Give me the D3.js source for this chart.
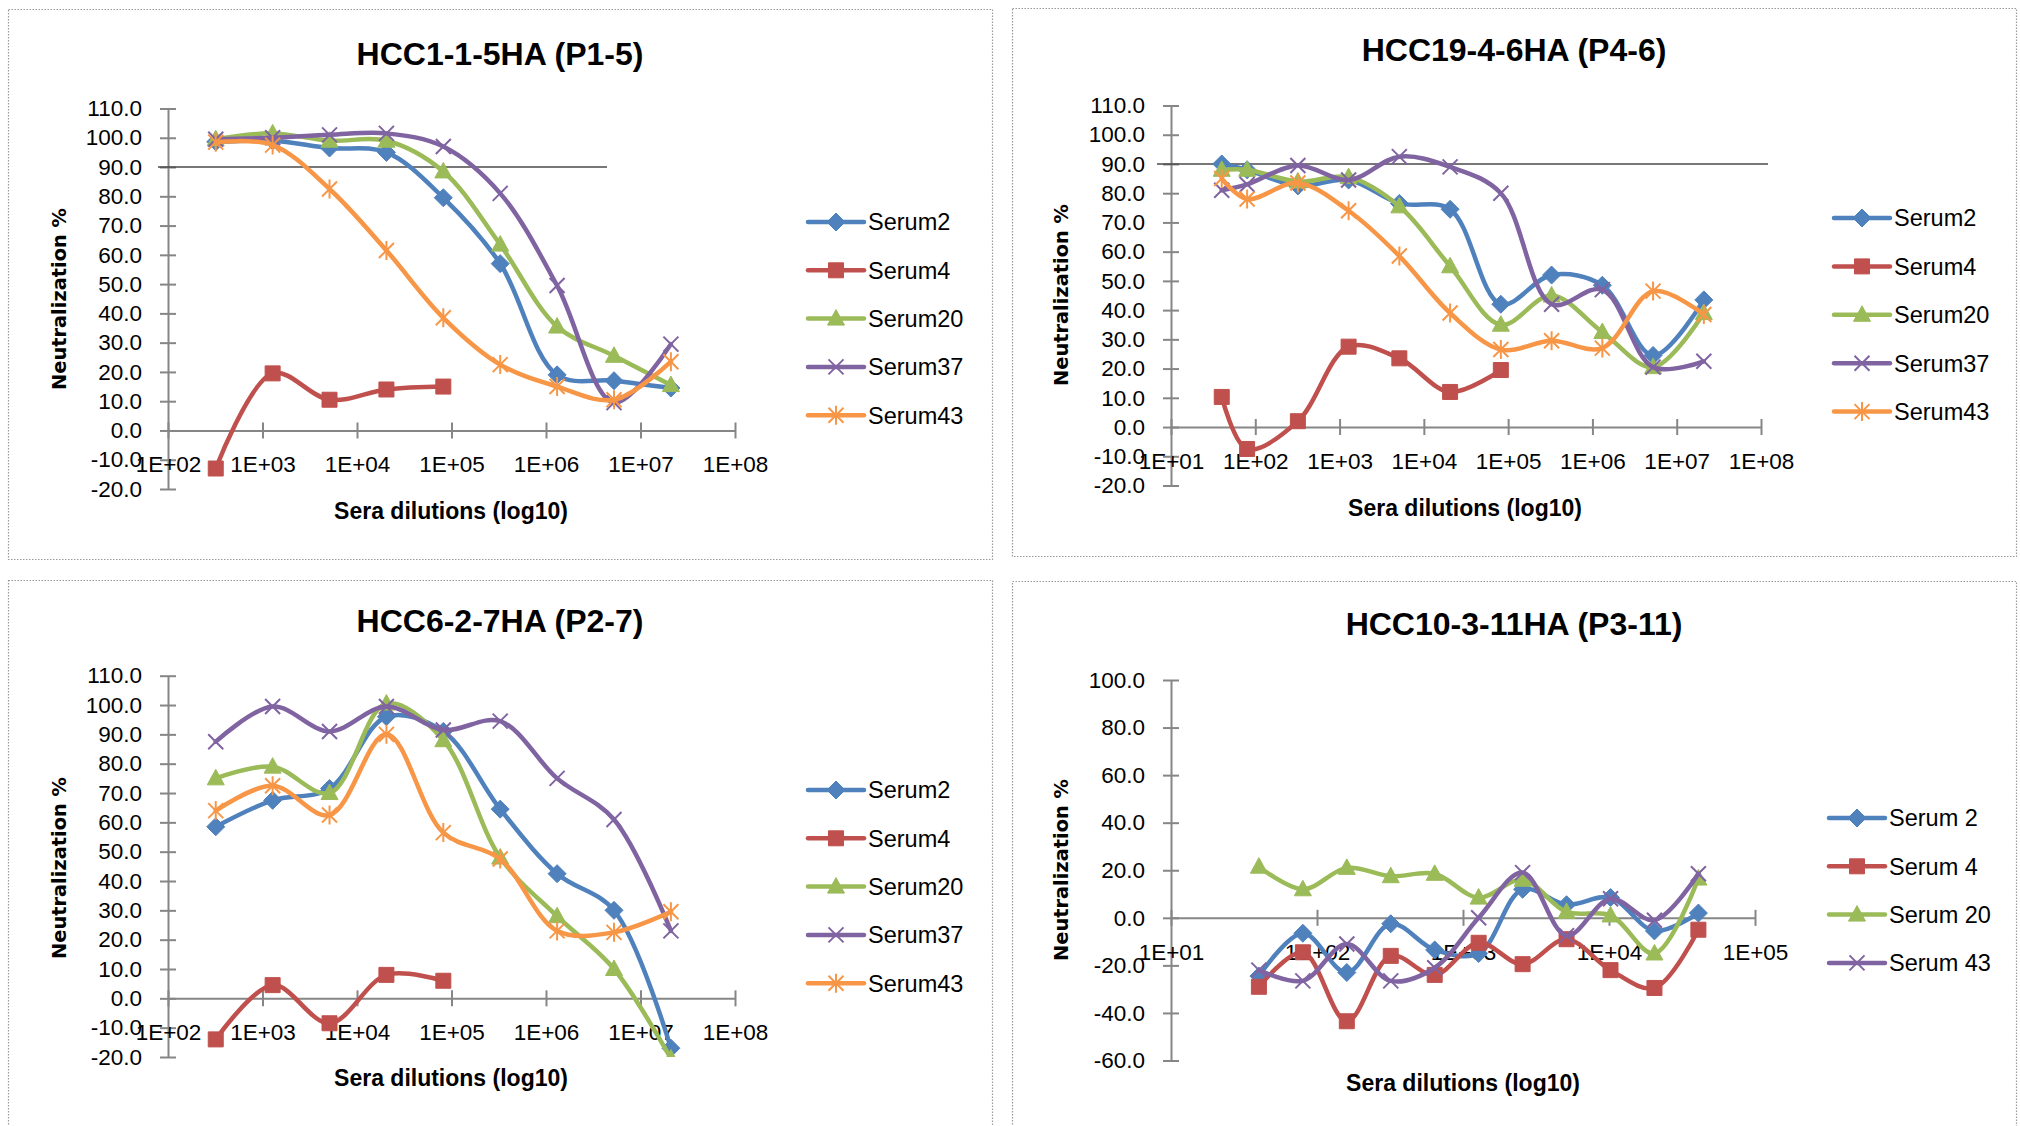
<!DOCTYPE html>
<html>
<head>
<meta charset="utf-8">
<script src="https://cdn.jsdelivr.net/npm/d3@7"></script>
<style>
  body { margin: 0; background: #fff; }
  text { font-family: "Liberation Sans", Arial, sans-serif; fill: #000; }
  .ytitle { font-family: "DejaVu Sans", Verdana, sans-serif; font-weight: bold; }
</style>
</head>
<body>
<div id="container"></div>
<script>
const width = 2020,
  height = 1126;

const colors = ["#4F81BD", "#C0504D", "#9BBB59", "#8064A2", "#F79646"];

// dilutions (x values)
const dil4fold = [320, 1280, 5120, 20480, 81920, 327680, 1310720, 5242880, 20971520];
const dilP2 = [40, 80, 320, 1280, 5120, 20480, 81920, 327680, 1310720, 5242880, 20971520];
const dil2fold = [40, 80, 160, 320, 640, 1280, 2560, 5120, 10240, 20480, 40960];

const seriesNames = ["Serum2", "Serum4", "Serum20", "Serum37", "Serum43"];
const seriesNamesP4 = ["Serum 2", "Serum 4", "Serum 20", "Serum 43"];

// HCC1-1-5HA (P1-5)
const p1Serum2 = [98.6, 99, 96.5, 95, 79.5, 57, 19, 17, 14.5];
const p1Serum4 = [-13, 19.5, 10.5, 14, 15];
const p1Serum20 = [99.5, 101.5, 99, 99, 88.5, 63.5, 35.5, 25.5, 15.5];
const p1Serum37 = [99.5, 100, 101, 101.5, 97, 81, 49.5, 9.5, 29.5];
const p1Serum43 = [98.5, 97.5, 82.5, 61.5, 38.5, 22.5, 15, 10.5, 23.5];

// HCC19-4-6HA (P4-6)
const p2Serum2 = [90, 88, 82.5, 84.5, 76.5, 74.5, 42, 52, 48.5, 24.5, 43.5];
const p2Serum4 = [10.3, -7.5, 2, 27.5, 23.5, 12, 19.5];
const p2Serum20 = [88, 88, 84, 85.5, 75.5, 55, 35, 45, 32.5, 20.5, 39];
const p2Serum37 = [81, 83, 89.5, 84.5, 92.5, 89, 80, 42, 47, 20.5, 22.5];
const p2Serum43 = [85, 78, 83.5, 74, 58.5, 39, 26.5, 29.5, 27, 46.5, 38.5];

// HCC6-2-7HA (P2-7)
const p3Serum2 = [58.5, 67.5, 71.5, 96, 91, 64.5, 42.5, 30, -17];
const p3Serum4 = [-14, 4.5, -8.5, 8, 6];
const p3Serum20 = [75, 79, 70, 100.5, 88, 48, 28, 10, -20.5];
const p3Serum37 = [87.5, 99.5, 91, 99.5, 91.5, 94.5, 75, 61, 23];
const p3Serum43 = [64, 72.5, 62.5, 90, 56.5, 47.5, 23, 22.5, 29.5];

// HCC10-3-11HA (P3-11)
const p4Serum2 = [-24.5, -6.5, -23, -2.5, -13.5, -15, 12, 5.5, 8.5, -5.5, 2];
const p4Serum4 = [-29, -14.5, -43.5, -16, -24, -10.5, -19.5, -9, -22, -29.5, -5];
const p4Serum20 = [21.5, 12, 21, 17.5, 18.5, 8.5, 16, 2.5, 1, -15, 16.5];
const p4Serum43 = [-22, -26.5, -11, -26.5, -21, 0, 19, -7.5, 8, -1, 18.5];

const threshold = 90;

const markerTypes = ["diamond", "square", "triangle", "x", "star"];

function markerPath(type) {
  switch (type) {
    case "diamond": return "M0,-9L9,0L0,9L-9,0Z";
    case "square": return "M-7.5,-7.5H7.5V7.5H-7.5Z";
    case "triangle": return "M0,-9L8.5,6.5L-8.5,6.5Z";
    case "x": return "M-7.5,-7.5L7.5,7.5M-7.5,7.5L7.5,-7.5";
    case "star": return "M-7.5,-7.5L7.5,7.5M-7.5,7.5L7.5,-7.5M0,-9.5L0,9.5";
  }
}
const filled = t => t === "diamond" || t === "square" || t === "triangle";

const panels = [
  {
    title: "HCC1-1-5HA (P1-5)", titleX: 500, titleY: 65,
    box: [8, 9, 992, 559],
    xDomain: [1e2, 1e8], xRange: [168, 735],
    yDomain: [-20, 110], yRange: [489, 108.5], yStep: 10,
    dil: dil4fold,
    series: [p1Serum2, p1Serum4, p1Serum20, p1Serum37, p1Serum43],
    names: seriesNames, colorIdx: [0, 1, 2, 3, 4], markers: [0, 1, 2, 3, 4],
    legendX: 808, legendY: 222, legendStep: 48.3,
    xTitleX: 451, xTitleY: 519, yTitleX: 59, yTitleY: 299,
    line90: [158, 607]
  },
  {
    title: "HCC19-4-6HA (P4-6)", titleX: 1514, titleY: 61,
    box: [1012, 8, 2016, 556],
    xDomain: [1e1, 1e8], xRange: [1171, 1761],
    yDomain: [-20, 110], yRange: [485.5, 105.5], yStep: 10,
    dil: dilP2,
    series: [p2Serum2, p2Serum4, p2Serum20, p2Serum37, p2Serum43],
    names: seriesNames, colorIdx: [0, 1, 2, 3, 4], markers: [0, 1, 2, 3, 4],
    legendX: 1834, legendY: 218, legendStep: 48.4,
    xTitleX: 1465, xTitleY: 516, yTitleX: 1061, yTitleY: 295,
    line90: [1157, 1768]
  },
  {
    title: "HCC6-2-7HA (P2-7)", titleX: 500, titleY: 632,
    box: [8, 580, 992, 1140],
    xDomain: [1e2, 1e8], xRange: [168, 735],
    yDomain: [-20, 110], yRange: [1057, 675.7], yStep: 10,
    dil: dil4fold,
    series: [p3Serum2, p3Serum4, p3Serum20, p3Serum37, p3Serum43],
    names: seriesNames, colorIdx: [0, 1, 2, 3, 4], markers: [0, 1, 2, 3, 4],
    legendX: 808, legendY: 790, legendStep: 48.3,
    xTitleX: 451, xTitleY: 1086, yTitleX: 59, yTitleY: 868,
    line90: null
  },
  {
    title: "HCC10-3-11HA (P3-11)", titleX: 1514, titleY: 635,
    box: [1012, 581, 2016, 1140],
    xDomain: [1e1, 1e5], xRange: [1171, 1755],
    yDomain: [-60, 100], yRange: [1060.5, 680], yStep: 20,
    dil: dil2fold,
    series: [p4Serum2, p4Serum4, p4Serum20, p4Serum43],
    names: seriesNamesP4, colorIdx: [0, 1, 2, 3], markers: [0, 1, 2, 3],
    legendX: 1829, legendY: 818, legendStep: 48.3,
    xTitleX: 1463, xTitleY: 1091, yTitleX: 1061, yTitleY: 870,
    line90: null
  }
];

const svg = d3.select("#container")
  .append("svg")
  .attr("width", width)
  .attr("height", height);

panels.forEach((p, pi) => drawPanel(p, pi));

function drawPanel(p, pi) {
  const g = svg.append("g");

  // dotted frame
  g.append("rect")
    .attr("x", p.box[0] + 0.5).attr("y", p.box[1] + 0.5)
    .attr("width", p.box[2] - p.box[0]).attr("height", p.box[3] - p.box[1])
    .attr("fill", "none").attr("stroke", "#9a9a9a")
    .attr("stroke-width", 1.2).attr("stroke-dasharray", "1.5,1.5");

  const x = d3.scaleLog().domain(p.xDomain).range(p.xRange);
  const y = d3.scaleLinear().domain(p.yDomain).range(p.yRange);
  const y0 = y(0);

  g.append("text")
    .attr("x", p.titleX).attr("y", p.titleY)
    .attr("text-anchor", "middle")
    .style("font-size", "32px").style("font-weight", "bold")
    .text(p.title);

  // y axis (Excel style: hyphen minus, one decimal)
  const yTicks = d3.range(p.yDomain[0], p.yDomain[1] + 0.001, p.yStep);
  const yAxis = d3.axisLeft(y).tickValues(yTicks).tickFormat(d => d.toFixed(1))
    .tickSizeInner(8).tickSizeOuter(0).tickPadding(18);
  const yg = g.append("g")
    .attr("transform", `translate(${p.xRange[0]},0)`)
    .call(yAxis);
  yg.select(".domain").attr("stroke", "#868686").attr("stroke-width", 2);
  yg.selectAll(".tick line").attr("x2", 8).attr("x1", -8)
    .attr("stroke", "#868686").attr("stroke-width", 2);
  yg.selectAll(".tick text")
    .style("font-size", "22.5px").style("font-family", "'Liberation Sans', Arial, sans-serif")
    .attr("fill", "#000");

  // x axis at y = 0
  const decades = d3.range(Math.log10(p.xDomain[0]), Math.log10(p.xDomain[1]) + 0.001, 1).map(e => Math.pow(10, e));
  const xAxis = d3.axisBottom(x).tickValues(decades)
    .tickFormat(d => "1E+" + String(Math.round(Math.log10(d))).padStart(2, "0"))
    .tickSizeInner(8).tickSizeOuter(0).tickPadding(18);
  const xg = g.append("g")
    .attr("transform", `translate(0,${y0})`)
    .call(xAxis);
  xg.select(".domain").attr("stroke", "#868686").attr("stroke-width", 2);
  xg.selectAll(".tick line").attr("y1", -8).attr("y2", 8)
    .attr("stroke", "#868686").attr("stroke-width", 2);
  xg.selectAll(".tick text")
    .style("font-size", "22.5px").style("font-family", "'Liberation Sans', Arial, sans-serif")
    .attr("fill", "#000").attr("dy", null).attr("y", 42);

  // axis titles
  g.append("text")
    .attr("x", p.xTitleX).attr("y", p.xTitleY)
    .attr("text-anchor", "middle")
    .style("font-size", "23px").style("font-weight", "bold")
    .text("Sera dilutions (log10)");

  g.append("text")
    .attr("class", "ytitle")
    .attr("transform", `translate(${p.yTitleX},${p.yTitleY}) rotate(-90)`)
    .attr("text-anchor", "middle").attr("dy", "0.36em")
    .style("font-size", "19.4px")
    .text("Neutralization %");

  // 90% line
  if (p.line90) {
    g.append("line")
      .attr("x1", p.line90[0]).attr("x2", p.line90[1])
      .attr("y1", y(threshold)).attr("y2", y(threshold))
      .attr("stroke", "#4a4a4a").attr("stroke-width", 1.6);
  }

  // clip to the plot area
  const clipId = "clip" + pi;
  svg.append("clipPath").attr("id", clipId)
    .append("rect")
    .attr("x", p.xRange[0] - 40).attr("y", p.yRange[1] - 20)
    .attr("width", p.xRange[1] - p.xRange[0] + 60)
    .attr("height", p.yRange[0] - p.yRange[1] + 20);

  const plot = g.append("g").attr("clip-path", `url(#${clipId})`);

  const lineGen = d3.line()
    .x(d => x(d.dil))
    .y(d => y(d.val))
    .curve(d3.curveCatmullRom.alpha(0.5));

  p.series.forEach((vals, si) => {
    const color = colors[p.colorIdx[si]];
    const mtype = markerTypes[p.markers[si]];
    const pts = vals.map((v, i) => ({ dil: p.dil[i], val: v }));

    plot.append("path")
      .datum(pts)
      .attr("fill", "none")
      .attr("stroke", color)
      .attr("stroke-width", 4.5)
      .attr("stroke-linejoin", "round")
      .attr("stroke-linecap", "round")
      .attr("d", lineGen);

    plot.selectAll(null)
      .data(pts)
      .join("path")
      .attr("transform", d => `translate(${x(d.dil)},${y(d.val)})`)
      .attr("d", markerPath(mtype))
      .attr("fill", filled(mtype) ? color : "none")
      .attr("stroke", color)
      .attr("stroke-width", filled(mtype) ? 1 : 2);

    // legend entry
    const ly = p.legendY + si * p.legendStep;
    const lg = g.append("g");
    lg.append("line")
      .attr("x1", p.legendX).attr("x2", p.legendX + 56)
      .attr("y1", ly).attr("y2", ly)
      .attr("stroke", color).attr("stroke-width", 4.5)
      .attr("stroke-linecap", "round");
    lg.append("path")
      .attr("transform", `translate(${p.legendX + 28},${ly})`)
      .attr("d", markerPath(mtype))
      .attr("fill", filled(mtype) ? color : "none")
      .attr("stroke", color)
      .attr("stroke-width", filled(mtype) ? 1 : 2);
    lg.append("text")
      .attr("x", p.legendX + 60).attr("y", ly)
      .attr("dy", "0.36em")
      .style("font-size", "23.5px")
      .text(p.names[si]);
  });
}
</script>
</body>
</html>
